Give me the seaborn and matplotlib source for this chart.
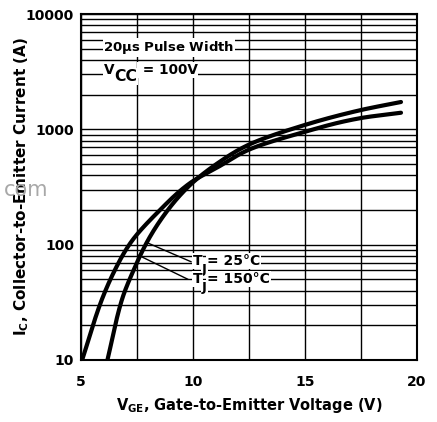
import numpy as np
import pandas as pd
import seaborn as sns
import matplotlib.pyplot as plt
from matplotlib.ticker import LogLocator, FixedLocator, NullFormatter

sns.set_style("white")
plt.rcParams["font.family"] = ["DejaVu Sans"]
plt.rcParams["mathtext.fontset"] = "dejavusans"
plt.rcParams["text.color"] = "black"
plt.rcParams["axes.labelcolor"] = "black"
plt.rcParams["xtick.color"] = "black"
plt.rcParams["ytick.color"] = "black"

# Transfer characteristics
vge_150 = [5.05, 5.92, 6.58, 7.2, 8.53, 9.87, 11.2, 12.46, 15.0, 17.5, 19.29]
ic_150 = [10, 33, 64, 103, 200, 342, 481, 661, 952, 1253, 1393]
vge_25 = [6.18, 6.82, 7.41, 8.0, 8.88, 9.87, 11.2, 12.46, 15.0, 17.5, 19.29]
ic_25 = [10, 33, 64, 110, 200, 329, 524, 731, 1092, 1470, 1726]

x_ticks = [5, 10, 15, 20]
y_ticks = [10, 100, 1000, 10000]
y_tick_labels = ["10", "100", "1000", "10000"]


def pchip(x, y, xx):
    # monotone cubic through the read points (Fritsch-Carlson)
    x = np.asarray(x, float)
    y = np.asarray(y, float)
    h = np.diff(x)
    d = np.diff(y) / h
    m = np.zeros_like(y)
    m[0], m[-1] = d[0], d[-1]
    for k in range(1, len(x) - 1):
        if d[k - 1] * d[k] > 0:
            w1 = 2 * h[k] + h[k - 1]
            w2 = h[k] + 2 * h[k - 1]
            m[k] = (w1 + w2) / (w1 / d[k - 1] + w2 / d[k])
    idx = np.clip(np.searchsorted(x, xx) - 1, 0, len(x) - 2)
    t = (xx - x[idx]) / h[idx]
    h00 = 2 * t**3 - 3 * t**2 + 1
    h10 = t**3 - 2 * t**2 + t
    h01 = -2 * t**3 + 3 * t**2
    h11 = t**3 - t**2
    return (h00 * y[idx] + h10 * h[idx] * m[idx]
            + h01 * y[idx + 1] + h11 * h[idx] * m[idx + 1])


rows = []
for name, v, i in [("150", vge_150, ic_150), ("25", vge_25, ic_25)]:
    # interpolate voltage against log current, the smoother direction
    li = np.log10(i)
    ll = np.linspace(li[0], li[-1], 400)
    vv = pchip(li, v, ll)
    rows.append(pd.DataFrame({"vge": vv, "ic": 10 ** ll, "tj": name}))
df = pd.concat(rows)

fig = plt.figure(figsize=(4.37, 4.22), dpi=100)
ax = fig.add_axes([0.1854, 0.147, 0.7686, 0.8198])

sns.lineplot(data=df, x="vge", y="ic", units="tj", estimator=None,
             color="black", lw=3, ax=ax, legend=False, sort=False)

ax.set_yscale("log")
ax.set_xlim(5, 20)
ax.set_ylim(10, 10000)
ax.xaxis.set_major_locator(FixedLocator(x_ticks))
ax.xaxis.set_minor_locator(FixedLocator([7.5, 12.5, 17.5]))
ax.yaxis.set_major_locator(FixedLocator(y_ticks))
ax.yaxis.set_minor_locator(LogLocator(base=10, subs=range(2, 10)))
ax.yaxis.set_minor_formatter(NullFormatter())
ax.set_yticklabels(y_tick_labels)
ax.grid(True, which="both", color="black", lw=1.0)
ax.set_axisbelow(True)
ax.tick_params(which="both", length=0, labelsize=10)
ax.tick_params(axis="x", pad=11)
ax.tick_params(axis="y", pad=5)
for t in ax.get_xticklabels() + ax.get_yticklabels():
    t.set_fontweight("bold")
for s in ax.spines.values():
    s.set_color("black")
    s.set_linewidth(1.5)

ax.set_xlabel(r"$\mathbf{V_{GE}}$, Gate-to-Emitter Voltage (V)",
              fontsize=10.5, fontweight="bold", labelpad=5)
ax.set_ylabel(r"$\mathbf{I_{C}}$, Collector-to-Emitter Current (A)",
              fontsize=11, fontweight="bold")
ax.yaxis.set_label_coords(-0.148, 0.5)

box = dict(facecolor="white", edgecolor="none", pad=0.6)


def sub_label(x, y, main, sub, rest, size, drop, sub_scale):
    # main letter, big low subscript, then the rest of the text
    t = ax.text(x, y, main, fontsize=size, fontweight="bold",
                va="center", ha="left", bbox=box)
    s = ax.annotate(sub, xy=(1.0, drop), xycoords=t, fontsize=size * sub_scale,
                    fontweight="bold", va="center", ha="left", bbox=box)
    ax.annotate(rest, xy=(1.0, 0.5), xycoords=(s, t), fontsize=size,
                fontweight="bold", va="center", ha="left", bbox=box)


ax.text(6.0, 5100, r"20$\mathbf{\mu}$s Pulse Width", fontsize=9.5,
        fontweight="bold", va="center", bbox=box)
sub_label(6.03, 3270, "V", "CC", " = 100V", 9.8, 0.05, 1.15)

# leader lines to the curves
ax.plot([8.0, 9.92], [103, 71], color="black", lw=1)
ax.plot([7.56, 9.78], [81, 50], color="black", lw=1)
sub_label(9.98, 72, "T", "J", "= 25°C", 10, -0.1, 0.95)
sub_label(9.98, 50.4, "T", "J", "= 150°C", 10, -0.1, 0.95)

# faint watermark fragment at the left edge
fig.text(0.008, 0.55, "com", fontsize=15, color="#a8a8a8", va="center")

fig.savefig("out.png", dpi=100)
